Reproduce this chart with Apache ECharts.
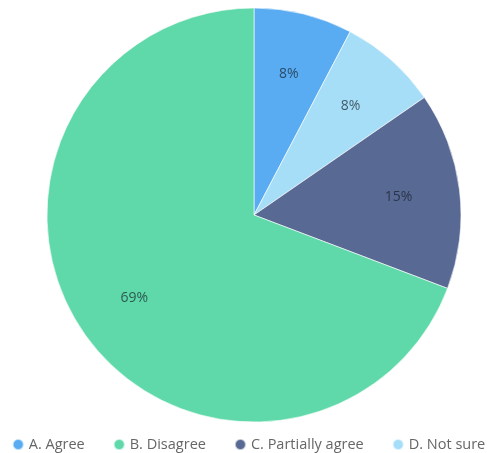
<!DOCTYPE html>
<html>
<head>
<meta charset="utf-8">
<script src="https://cdn.jsdelivr.net/npm/echarts@6/dist/echarts.min.js"></script>
<style>
  html, body { margin: 0; padding: 0; background: #fff; }
  #chart { width: 497px; height: 453px; }
</style>
</head>
<body>
<div id="chart"></div>
<script>
// Survey responses (counts), listed in the clockwise drawing order
const sliceNames = ['A. Agree', 'D. Not sure', 'C. Partially agree', 'B. Disagree'];
const sliceValues = [1, 1, 2, 9];
const legendOrder = ['A. Agree', 'B. Disagree', 'C. Partially agree', 'D. Not sure'];
const colorByName = {
  'A. Agree': '#59acf1',
  'B. Disagree': '#5fd9a9',
  'C. Partially agree': '#586994',
  'D. Not sure': '#a6def8'
};

const total = sliceValues.reduce((s, v) => s + v, 0);
const pieData = sliceNames.map((n, i) => ({
  name: n,
  value: sliceValues[i],
  itemStyle: { color: colorByName[n] }
}));

const fontFamily = '"Open Sans", "Noto Sans", sans-serif';
const chart = echarts.init(document.getElementById('chart'));
chart.setOption({
  animation: false,
  legend: {
    data: legendOrder,
    top: 432,
    left: 'center',
    icon: 'circle',
    itemWidth: 11,
    itemHeight: 11,
    itemGap: 28,
    textStyle: { color: '#666', fontSize: 14.5, fontFamily: fontFamily }
  },
  series: [
    {
      type: 'pie',
      center: [254, 215],
      radius: [0, 207],
      startAngle: 90,
      clockwise: true,
      data: pieData,
      label: { show: false },
      labelLine: { show: false },
      itemStyle: { borderColor: 'rgba(255,255,255,0.6)', borderWidth: 1 },
      emphasis: { disabled: true }
    },
    {
      // ring carrying the percentage labels further out than the pie's midpoint
      type: 'pie',
      center: [254, 215],
      radius: [78, 207],
      startAngle: 90,
      clockwise: true,
      silent: true,
      data: pieData.map(d => ({ name: d.name, value: d.value, itemStyle: { color: 'transparent' } })),
      label: {
        show: true,
        position: 'inside',
        color: 'rgba(20,30,40,0.7)',
        fontSize: 14,
        fontFamily: fontFamily,
        formatter: p => Math.round(p.value / total * 100) + '%'
      },
      labelLine: { show: false },
      emphasis: { disabled: true }
    }
  ]
});
</script>
</body>
</html>
